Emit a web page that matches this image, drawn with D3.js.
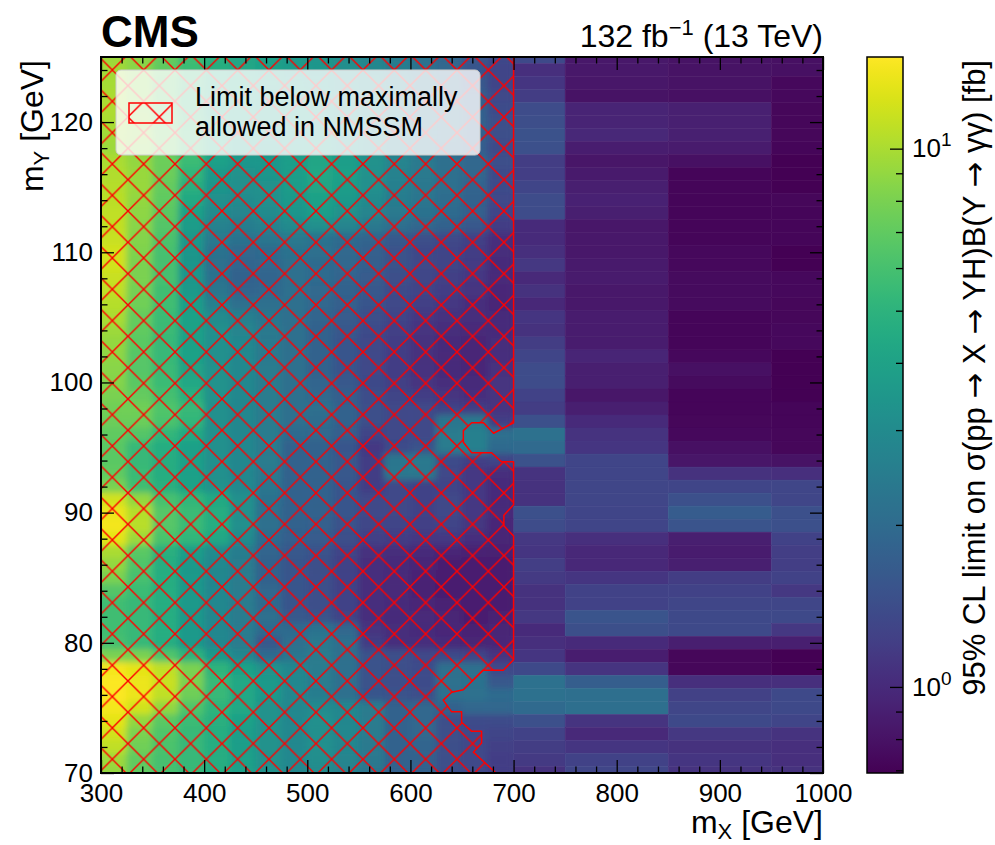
<!DOCTYPE html>
<html>
<head>
<meta charset="utf-8">
<script src="https://cdn.jsdelivr.net/npm/d3@7"></script>
<style>
  html, body { margin: 0; padding: 0; background: #ffffff; }
  svg { display: block; }
</style>
</head>
<body>
<svg id="chart" width="995" height="845"></svg>
<script>
// ---- data -------------------------------------------------------------
// mX bin edges [GeV]: 25 GeV bins below 700, coarse points above
const mxEdges = [300, 325, 350, 375, 400, 425, 450, 475, 500, 525, 550, 575,
                 600, 625, 650, 675, 700, 750, 850, 950, 1000];
// mY row centres [GeV], top row first (rows are 1 GeV wide, clipped to 70-125)
const myRows = [125, 124, 123, 122, 121, 120, 119, 118, 117, 116, 115, 114, 113, 112,
                111, 110, 109, 108, 107, 106, 105, 104, 103, 102, 101, 100, 99, 98,
                97, 96, 95, 94, 93, 92, 91, 90, 89, 88, 87, 86, 85, 84, 83, 82,
                81, 80, 79, 78, 77, 76, 75, 74, 73, 72, 71, 70];
// 95% CL upper limits [fb]; one row per mY value, one entry per mX bin
const limitRows = [
  [9.5, 8.8, 7.2, 5.8, 4.8, 4.2, 3.9, 3.6, 3.4, 3.1, 2.8, 2.5, 2.2, 1.9, 1.6, 1.36, 1.36, 0.84, 0.80, 0.78],
  [9.6, 8.6, 7.0, 5.6, 4.7, 4.3, 4.0, 3.7, 3.5, 3.2, 2.9, 2.5, 2.2, 1.9, 1.55, 1.3, 1.05, 0.84, 0.80, 0.78],
  [9.8, 8.5, 6.8, 5.5, 4.6, 4.4, 4.1, 3.8, 3.6, 3.3, 3.0, 2.6, 2.3, 2.0, 1.6, 1.3, 1.11, 0.83, 0.80, 0.74],
  [10.0, 8.6, 6.8, 5.4, 4.5, 4.3, 4.0, 3.9, 3.7, 3.3, 3.0, 2.6, 2.3, 2.0, 1.7, 1.35, 1.19, 0.80, 0.78, 0.74],
  [10.2, 8.8, 7.0, 5.4, 4.4, 4.2, 4.0, 3.9, 3.8, 3.4, 3.0, 2.6, 2.3, 2.1, 1.8, 1.4, 1.40, 0.94, 0.91, 0.73],
  [10.0, 9.0, 7.2, 5.6, 4.5, 4.1, 3.9, 3.8, 3.8, 3.5, 3.1, 2.6, 2.3, 2.1, 1.8, 1.45, 1.43, 0.94, 0.91, 0.73],
  [9.6, 9.0, 7.4, 5.8, 4.6, 4.0, 3.8, 3.8, 3.9, 3.5, 3.1, 2.6, 2.3, 2.1, 1.8, 1.45, 1.50, 0.97, 0.91, 0.73],
  [9.4, 8.8, 7.4, 5.8, 4.6, 4.0, 3.7, 3.8, 3.9, 3.5, 3.1, 2.5, 2.3, 2.0, 1.7, 1.4, 1.46, 0.88, 0.86, 0.72],
  [10.0, 9.0, 7.4, 5.6, 3.9, 3.5, 3.5, 3.8, 4.2, 3.8, 3.3, 2.8, 2.4, 2.1, 1.9, 1.45, 1.19, 0.82, 0.78, 0.70],
  [10.3, 9.2, 7.4, 5.2, 3.6, 3.3, 3.4, 3.8, 4.3, 3.9, 3.3, 2.7, 2.4, 2.1, 1.9, 1.4, 1.21, 0.85, 0.72, 0.70],
  [10.5, 9.2, 7.2, 4.8, 3.4, 3.2, 3.3, 3.7, 4.2, 3.8, 3.2, 2.6, 2.35, 2.1, 1.85, 1.4, 1.30, 0.90, 0.72, 0.70],
  [10.8, 9.0, 7.0, 4.4, 3.2, 3.0, 3.2, 3.6, 4.0, 3.6, 3.0, 2.5, 2.3, 2.05, 1.8, 1.35, 1.40, 0.92, 0.72, 0.73],
  [11.0, 8.8, 6.8, 4.0, 3.0, 2.8, 3.0, 3.4, 3.8, 3.3, 2.8, 2.4, 2.2, 2.0, 1.75, 1.3, 1.40, 0.90, 0.72, 0.72],
  [11.2, 8.6, 6.5, 3.7, 2.7, 2.5, 2.7, 3.0, 3.2, 2.8, 2.4, 2.1, 1.9, 1.8, 1.6, 1.2, 1.0, 0.83, 0.72, 0.72],
  [11.5, 8.4, 6.2, 3.5, 2.4, 2.2, 2.3, 2.4, 2.2, 2.0, 1.85, 1.6, 1.45, 1.35, 1.25, 1.05, 1.0, 0.84, 0.72, 0.72],
  [12.0, 8.2, 6.0, 3.4, 2.2, 1.95, 2.0, 2.2, 2.1, 1.95, 1.75, 1.5, 1.38, 1.3, 1.2, 1.02, 1.04, 0.84, 0.74, 0.69],
  [12.0, 8.0, 6.0, 3.4, 2.1, 1.85, 1.9, 2.1, 2.0, 1.9, 1.7, 1.5, 1.35, 1.28, 1.18, 1.0, 1.14, 0.85, 0.74, 0.69],
  [11.5, 8.0, 6.0, 3.5, 2.2, 1.8, 1.85, 2.1, 2.0, 1.85, 1.65, 1.45, 1.32, 1.25, 1.15, 0.98, 0.99, 0.86, 0.76, 0.74],
  [11.0, 7.8, 5.8, 3.6, 2.3, 1.85, 1.9, 2.1, 1.95, 1.8, 1.6, 1.4, 1.3, 1.2, 1.1, 0.97, 1.07, 0.84, 0.76, 0.74],
  [10.5, 7.6, 5.8, 3.8, 2.6, 2.1, 2.1, 2.1, 1.9, 1.75, 1.55, 1.35, 1.25, 1.15, 1.05, 0.96, 0.97, 0.84, 0.76, 0.73],
  [10.0, 7.2, 5.6, 4.0, 3.0, 2.6, 2.3, 2.1, 1.85, 1.65, 1.45, 1.3, 1.15, 1.08, 1.02, 1.0, 1.11, 0.87, 0.72, 0.73],
  [9.5, 7.0, 5.5, 4.0, 3.2, 2.8, 2.4, 2.1, 1.8, 1.6, 1.4, 1.25, 1.1, 1.02, 0.98, 1.0, 1.07, 0.87, 0.72, 0.74],
  [9.0, 6.8, 5.4, 4.0, 3.2, 2.9, 2.4, 2.1, 1.8, 1.55, 1.35, 1.2, 1.07, 1.0, 0.96, 1.02, 1.19, 0.87, 0.72, 0.74],
  [8.8, 6.6, 5.4, 4.0, 3.2, 2.9, 2.4, 2.1, 1.8, 1.55, 1.35, 1.2, 1.07, 0.99, 0.96, 1.05, 1.30, 0.95, 0.74, 0.69],
  [8.6, 6.6, 5.5, 4.1, 3.3, 2.9, 2.45, 2.1, 1.8, 1.55, 1.35, 1.2, 1.08, 1.0, 0.97, 1.08, 1.40, 0.90, 0.78, 0.69],
  [8.4, 6.8, 5.6, 4.3, 3.3, 2.9, 2.45, 2.1, 1.85, 1.6, 1.38, 1.22, 1.1, 1.02, 1.0, 1.1, 1.40, 0.90, 0.76, 0.69],
  [8.0, 7.2, 5.9, 4.8, 3.3, 2.9, 2.45, 2.1, 1.95, 1.7, 1.42, 1.28, 1.2, 1.1, 1.05, 1.1, 1.27, 0.83, 0.72, 0.70],
  [7.6, 7.6, 6.4, 5.4, 3.2, 2.85, 2.45, 2.1, 2.1, 1.8, 1.45, 1.35, 1.35, 1.27, 1.2, 1.1, 1.19, 0.90, 0.72, 0.72],
  [7.4, 7.4, 6.2, 5.2, 3.2, 2.85, 2.45, 2.1, 2.05, 1.8, 1.45, 1.35, 1.35, 2.3, 2.4, 1.2, 1.46, 1.0, 0.73, 0.72],
  [7.0, 6.5, 5.2, 4.4, 3.2, 2.85, 2.45, 2.0, 1.95, 1.7, 1.3, 1.35, 1.35, 2.45, 2.6, 2.1, 2.15, 1.09, 0.74, 0.73],
  [6.8, 5.4, 4.6, 3.9, 3.2, 2.85, 2.45, 1.8, 1.8, 1.55, 1.15, 1.4, 1.5, 2.45, 2.6, 2.0, 1.97, 1.11, 0.78, 0.73],
  [6.8, 5.4, 4.6, 3.9, 3.2, 2.85, 2.45, 1.8, 1.8, 1.6, 1.2, 2.3, 2.4, 1.4, 1.25, 1.3, 1.50, 1.30, 0.82, 0.80],
  [7.0, 5.5, 4.6, 3.9, 3.2, 2.85, 2.4, 1.8, 1.8, 1.6, 1.2, 2.35, 2.35, 1.35, 1.15, 1.05, 1.09, 1.30, 1.07, 1.04],
  [8.0, 5.8, 4.8, 4.0, 3.3, 2.9, 2.3, 1.8, 1.8, 1.55, 1.2, 1.35, 1.27, 1.3, 1.15, 1.0, 1.07, 1.32, 1.30, 1.32],
  [12.0, 9.0, 6.0, 5.2, 4.4, 3.2, 2.2, 1.8, 1.8, 1.55, 1.35, 1.35, 1.27, 1.35, 1.15, 1.0, 1.07, 1.32, 1.46, 1.32],
  [13.5, 10.5, 6.6, 5.5, 4.6, 3.2, 2.1, 1.8, 1.8, 1.55, 1.35, 1.35, 1.27, 1.35, 1.15, 0.98, 1.46, 1.30, 1.66, 1.46],
  [14.0, 10.7, 6.6, 5.5, 4.6, 3.2, 2.1, 1.8, 1.75, 1.5, 1.32, 1.3, 1.25, 1.3, 1.12, 0.97, 1.40, 1.30, 1.53, 1.46],
  [13.0, 9.5, 6.2, 5.2, 4.3, 3.0, 2.0, 1.7, 1.65, 1.45, 1.25, 1.2, 1.15, 1.15, 1.05, 0.95, 1.14, 1.04, 0.90, 1.27],
  [10.0, 6.8, 4.8, 3.8, 3.0, 2.5, 1.85, 1.6, 1.5, 1.3, 1.08, 1.02, 1.0, 0.96, 0.92, 0.92, 1.11, 0.97, 0.87, 1.21],
  [9.0, 6.4, 4.6, 3.6, 2.9, 2.45, 1.8, 1.55, 1.45, 1.27, 1.05, 1.0, 0.96, 0.9, 0.9, 0.9, 1.21, 0.97, 0.90, 1.21],
  [8.0, 6.0, 4.6, 3.6, 2.85, 2.45, 1.8, 1.55, 1.45, 1.27, 1.05, 0.98, 0.93, 0.88, 0.88, 0.9, 1.16, 1.11, 1.19, 1.27],
  [6.5, 5.6, 4.6, 3.6, 2.85, 2.45, 1.9, 1.55, 1.45, 1.27, 1.04, 0.98, 0.92, 0.88, 0.88, 0.9, 1.07, 1.27, 1.27, 1.14],
  [5.8, 5.4, 4.6, 3.6, 2.85, 2.45, 2.0, 1.55, 1.45, 1.27, 1.04, 1.0, 0.96, 0.92, 0.9, 0.9, 1.07, 1.27, 1.32, 1.32],
  [5.8, 5.4, 4.6, 3.6, 2.85, 2.45, 2.1, 1.6, 1.5, 1.3, 1.05, 1.0, 0.98, 0.95, 0.9, 0.92, 1.14, 1.53, 1.36, 1.36],
  [5.8, 5.4, 4.6, 3.6, 2.85, 2.45, 2.0, 2.0, 2.2, 1.9, 1.1, 1.02, 1.0, 0.97, 0.92, 0.95, 1.0, 1.45, 1.36, 1.14],
  [6.0, 5.4, 4.6, 3.6, 2.85, 2.45, 1.6, 2.1, 2.4, 2.1, 1.2, 1.05, 1.05, 1.0, 0.95, 0.97, 1.04, 1.0, 0.90, 0.90],
  [8.0, 8.0, 6.4, 5.0, 3.6, 2.85, 2.0, 2.3, 2.45, 2.1, 1.5, 1.45, 1.35, 1.36, 1.3, 1.1, 1.11, 0.88, 0.73, 0.69],
  [14.0, 13.0, 11.0, 8.0, 5.0, 4.0, 3.3, 2.85, 2.45, 2.1, 1.5, 1.45, 1.4, 2.1, 2.1, 1.35, 1.36, 1.1, 0.73, 0.69],
  [14.5, 13.5, 11.5, 8.0, 5.4, 4.3, 3.6, 2.85, 2.45, 2.1, 1.5, 1.45, 1.4, 2.15, 2.2, 1.6, 2.15, 1.7, 1.04, 1.04],
  [14.5, 13.5, 11.0, 7.5, 5.4, 4.3, 3.6, 2.85, 2.5, 2.1, 1.55, 1.5, 1.45, 2.1, 2.15, 2.0, 2.15, 2.1, 1.25, 1.36],
  [14.0, 12.0, 9.0, 6.4, 5.0, 4.3, 3.3, 2.85, 3.0, 2.85, 2.45, 1.8, 1.9, 1.8, 1.9, 1.9, 1.97, 2.1, 1.32, 1.36],
  [13.0, 9.0, 6.8, 5.6, 4.8, 4.0, 3.3, 2.85, 3.2, 2.85, 2.45, 1.8, 1.9, 1.45, 1.4, 1.4, 1.46, 1.1, 1.36, 1.30],
  [12.0, 8.0, 6.4, 5.4, 4.6, 3.8, 3.3, 2.85, 3.2, 2.85, 2.45, 1.8, 1.9, 1.45, 1.35, 1.3, 1.27, 0.99, 1.14, 1.09],
  [11.0, 7.6, 6.2, 5.4, 4.6, 3.8, 3.3, 2.9, 3.2, 2.85, 2.4, 1.8, 1.85, 1.45, 1.35, 1.25, 1.19, 1.11, 1.07, 1.04],
  [9.5, 7.0, 6.0, 5.4, 4.6, 3.9, 3.3, 2.9, 3.1, 2.8, 2.35, 1.8, 1.8, 1.45, 1.35, 1.2, 1.16, 1.27, 1.11, 1.04],
  [9.0, 7.0, 6.0, 5.4, 4.6, 3.9, 3.3, 2.9, 3.0, 2.7, 2.3, 1.8, 1.8, 1.45, 1.35, 1.2, 1.07, 1.32, 1.09, 1.07]
];
// outline of the region where the limit is below the maximal NMSSM cross section
const hatchMx = [300, 700, 700, 680.6, 670.9, 659.4, 651.3, 651.3, 659.4, 678.7, 688.4, 700,
                 700, 690.6, 690.6, 700, 700, 690, 670.6, 651.3, 640, 631.8, 640, 649.6,
                 649.6, 659.4, 669, 669, 661, 683, 300];
const hatchMy = [125, 125, 96.9, 96.1, 96.9, 96.9, 96.3, 95.4, 94.6, 94.6, 93.9, 93.9,
                 90.6, 89.8, 89.0, 88.2, 78.7, 77.9, 77.9, 76.4, 76.2, 75.6, 74.7, 74.7,
                 73.9, 73.2, 73.2, 72.3, 71.6, 70, 70];
// axis ticks
const xMajor = [300, 400, 500, 600, 700, 800, 900, 1000];
const xMinor = [320, 340, 360, 380, 420, 440, 460, 480, 520, 540, 560, 580, 620, 640, 660, 680,
                720, 740, 760, 780, 820, 840, 860, 880, 920, 940, 960, 980];
const yMajor = [70, 80, 90, 100, 110, 120];
const yMinor = [72, 74, 76, 78, 82, 84, 86, 88, 92, 94, 96, 98, 102, 104, 106, 108,
                112, 114, 116, 118, 122, 124];
const zMajor = [1, 10];
const zMinor = [0.7, 0.8, 0.9, 2, 3, 4, 5, 6, 7, 8, 9];
const zRange = [0.692, 14.8];

// ---- layout -----------------------------------------------------------
const FONT = "'Liberation Sans', Arial, Helvetica, sans-serif";
const ARROW_FONT = "'DejaVu Sans', sans-serif";
const plot = { left: 101, right: 823, top: 57, bottom: 773 };
const cbar = { left: 867, right: 903 };
const FINE_GRID_END = 700;   // the interpolated (fine) part of the grid ends here

const svg = d3.select('#chart');
const x = d3.scaleLinear().domain([300, 1000]).range([plot.left, plot.right]);
const y = d3.scaleLinear().domain([70, 125]).range([plot.bottom, plot.top]);
const z = d3.scaleLog().domain(zRange).range([plot.bottom, plot.top]);
const color = d3.scaleSequentialLog(d3.interpolateViridis).domain(zRange);

const defs = svg.append('defs');
defs.append('clipPath').attr('id', 'plotClip').append('rect')
  .attr('x', plot.left).attr('y', plot.top)
  .attr('width', plot.right - plot.left).attr('height', plot.bottom - plot.top);
defs.append('clipPath').attr('id', 'fineClip').append('rect')
  .attr('x', plot.left).attr('y', plot.top)
  .attr('width', x(FINE_GRID_END) - plot.left).attr('height', plot.bottom - plot.top);
defs.append('filter').attr('id', 'soften')
  .attr('x', '-5%').attr('y', '-5%').attr('width', '110%').attr('height', '110%')
  .append('feGaussianBlur').attr('stdDeviation', 3);

// "x" hatch
const HS = 31.33;
const pat = defs.append('pattern').attr('id', 'xhatch')
  .attr('patternUnits', 'userSpaceOnUse')
  .attr('x', 2.67).attr('y', 23).attr('width', HS).attr('height', HS);
pat.append('path')
  .attr('d', `M-3,-3L${HS + 3},${HS + 3}M-3,${HS + 3}L${HS + 3},-3`)
  .attr('stroke', '#ff0000').attr('stroke-width', 1.4).attr('fill', 'none');

// ---- heat map ---------------------------------------------------------
const cells = [];
limitRows.forEach((row, i) => {
  const m = myRows[i];
  const y0 = Math.max(70, m - 0.5), y1 = Math.min(125, m + 0.5);
  row.forEach((v, j) => cells.push({ x0: mxEdges[j], x1: mxEdges[j + 1], y0, y1, v }));
});
function drawCells(g, data) {
  g.selectAll('rect').data(data).join('rect')
    .attr('x', d => x(d.x0))
    .attr('y', d => y(d.y1))
    .attr('width', d => x(d.x1) - x(d.x0))
    .attr('height', d => y(d.y0) - y(d.y1))
    .attr('fill', d => color(d.v))
    .attr('stroke', d => color(d.v))
    .attr('stroke-width', 0.5);
}
drawCells(svg.append('g').attr('class', 'cells'), cells);
// the low-mass part is an interpolated grid: smooth its cell edges
drawCells(svg.append('g').attr('clip-path', 'url(#fineClip)')
  .append('g').attr('filter', 'url(#soften)'),
  cells.filter(d => d.x1 <= FINE_GRID_END));

// ---- hatched region ---------------------------------------------------
const outline = hatchMx.map((mx, i) => [mx, hatchMy[i]]);
svg.append('path')
  .attr('d', d3.line().x(d => x(d[0])).y(d => y(d[1]))(outline) + 'Z')
  .attr('fill', 'url(#xhatch)')
  .attr('stroke', '#ff0000').attr('stroke-width', 1.5)
  .attr('stroke-linejoin', 'round')
  .attr('clip-path', 'url(#plotClip)');

// ---- axes -------------------------------------------------------------
function styleAxis(g, labels) {
  g.select('.domain').remove();
  g.selectAll('.tick line').attr('stroke', '#000').attr('stroke-width', 1.3);
  g.selectAll('.tick text')
    .attr('font-family', FONT).attr('font-size', 26).attr('fill', '#000');
  if (!labels) g.selectAll('.tick text').remove();
}
const fmt = d3.format('d');
styleAxis(svg.append('g').attr('transform', `translate(0,${plot.bottom})`)
  .call(d3.axisBottom(x).tickValues(xMajor).tickSize(-13).tickPadding(11).tickFormat(fmt)), true);
styleAxis(svg.append('g').attr('transform', `translate(0,${plot.bottom})`)
  .call(d3.axisBottom(x).tickValues(xMinor).tickSize(-6.5)), false);
styleAxis(svg.append('g').attr('transform', `translate(0,${plot.top})`)
  .call(d3.axisTop(x).tickValues(xMajor).tickSize(-13)), false);
styleAxis(svg.append('g').attr('transform', `translate(0,${plot.top})`)
  .call(d3.axisTop(x).tickValues(xMinor).tickSize(-6.5)), false);
styleAxis(svg.append('g').attr('transform', `translate(${plot.left},0)`)
  .call(d3.axisLeft(y).tickValues(yMajor).tickSize(-13).tickPadding(8).tickFormat(fmt)), true);
styleAxis(svg.append('g').attr('transform', `translate(${plot.left},0)`)
  .call(d3.axisLeft(y).tickValues(yMinor).tickSize(-6.5)), false);
styleAxis(svg.append('g').attr('transform', `translate(${plot.right},0)`)
  .call(d3.axisRight(y).tickValues(yMajor).tickSize(-13)), false);
styleAxis(svg.append('g').attr('transform', `translate(${plot.right},0)`)
  .call(d3.axisRight(y).tickValues(yMinor).tickSize(-6.5)), false);

svg.append('rect')
  .attr('x', plot.left).attr('y', plot.top)
  .attr('width', plot.right - plot.left).attr('height', plot.bottom - plot.top)
  .attr('fill', 'none').attr('stroke', '#000').attr('stroke-width', 2);

// ---- legend -----------------------------------------------------------
const leg = svg.append('g').attr('class', 'legend');
leg.append('rect')
  .attr('x', 116).attr('y', 70).attr('width', 364).attr('height', 85)
  .attr('rx', 5).attr('ry', 5)
  .attr('fill', '#ffffff').attr('fill-opacity', 0.8)
  .attr('stroke', '#cccccc').attr('stroke-width', 1);
leg.append('rect')
  .attr('x', 129).attr('y', 103).attr('width', 43).attr('height', 20)
  .attr('fill', 'url(#xhatch)')
  .attr('stroke', '#ff0000').attr('stroke-width', 1.5);
const legText = leg.append('text')
  .attr('font-family', FONT).attr('font-size', 27).attr('fill', '#000');
legText.append('tspan').attr('x', 195).attr('y', 106).text('Limit below maximally');
legText.append('tspan').attr('x', 195).attr('y', 136).text('allowed in NMSSM');

// ---- colour bar -------------------------------------------------------
const grad = defs.append('linearGradient').attr('id', 'cbarGrad')
  .attr('x1', 0).attr('y1', 1).attr('x2', 0).attr('y2', 0);
d3.range(0, 1.0001, 0.02).forEach(t => {
  const v = zRange[0] * Math.pow(zRange[1] / zRange[0], t);
  grad.append('stop').attr('offset', t).attr('stop-color', color(v));
});
svg.append('rect')
  .attr('x', cbar.left).attr('y', plot.top)
  .attr('width', cbar.right - cbar.left).attr('height', plot.bottom - plot.top)
  .attr('fill', 'url(#cbarGrad)');

const zMajG = svg.append('g').attr('transform', `translate(${cbar.right},0)`)
  .call(d3.axisRight(z).tickValues(zMajor).tickSize(-13).tickPadding(9));
styleAxis(zMajG, true);
zMajG.selectAll('.tick text').each(function (d) {
  const t = d3.select(this);
  t.text('');
  t.append('tspan').text('10');
  t.append('tspan').attr('dy', -11).attr('font-size', 19).text(Math.round(Math.log10(d)));
});
styleAxis(svg.append('g').attr('transform', `translate(${cbar.right},0)`)
  .call(d3.axisRight(z).tickValues(zMinor).tickSize(-7)), false);

svg.append('rect')
  .attr('x', cbar.left).attr('y', plot.top)
  .attr('width', cbar.right - cbar.left).attr('height', plot.bottom - plot.top)
  .attr('fill', 'none').attr('stroke', '#000').attr('stroke-width', 1.5);

// ---- labels -----------------------------------------------------------
svg.append('text')
  .attr('x', plot.left).attr('y', 47)
  .attr('font-family', FONT).attr('font-weight', 'bold').attr('font-size', 44)
  .text('CMS');

const lumi = svg.append('text')
  .attr('x', plot.right).attr('y', 47).attr('text-anchor', 'end')
  .attr('font-family', FONT).attr('font-size', 32);
lumi.append('tspan').text('132 fb');
lumi.append('tspan').attr('dy', -12).attr('font-size', 22).text('\u22121');
lumi.append('tspan').attr('dy', 12).text(' (13 TeV)');

const xTitle = svg.append('text')
  .attr('x', plot.right).attr('y', 833).attr('text-anchor', 'end')
  .attr('font-family', FONT).attr('font-size', 32);
xTitle.append('tspan').text('m');
xTitle.append('tspan').attr('dy', 6).attr('font-size', 22).text('X');
xTitle.append('tspan').attr('dy', -6).text(' [GeV]');

const yTitle = svg.append('text')
  .attr('transform', `translate(43,${plot.top + 3}) rotate(-90)`)
  .attr('text-anchor', 'end')
  .attr('font-family', FONT).attr('font-size', 32);
yTitle.append('tspan').text('m');
yTitle.append('tspan').attr('dy', 6).attr('font-size', 22).text('Y');
yTitle.append('tspan').attr('dy', -6).text(' [GeV]');

// colour bar title; arrows come from a font that has the glyph
const zTitleParts = [
  ['95% CL limit on \u03c3(pp ', false], ['\u2192', true], [' X ', false], ['\u2192', true],
  [' YH)B(Y ', false], ['\u2192', true], [' \u03b3\u03b3) [fb]', false]
];
const zTitle = svg.append('text')
  .attr('transform', `translate(985,${plot.top + 3}) rotate(-90)`)
  .attr('text-anchor', 'end')
  .attr('font-family', FONT).attr('font-size', 31);
zTitleParts.forEach(([s, isArrow]) => {
  const t = zTitle.append('tspan').text(s);
  if (isArrow) t.attr('font-family', ARROW_FONT);
});
</script>
</body>
</html>
